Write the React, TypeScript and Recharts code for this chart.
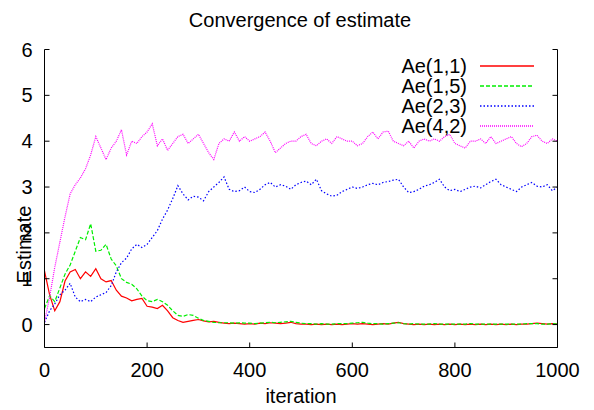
import React from 'react';
import { LineChart, Line, XAxis, YAxis, Customized } from 'recharts';

const FONT = '"Liberation Sans", Arial, Helvetica, sans-serif';

// iteration index of each sample (every 10 iterations)
const iterations = Array.from({ length: 101 }, (_, i) => i * 10);

const ae11 = [
  1.17, 0.65, 0.3, 0.5, 0.95, 1.15, 1.2, 1.0, 1.15, 1.05,
  1.22, 1.0, 0.93, 0.96, 0.75, 0.62, 0.58, 0.52, 0.55, 0.57,
  0.4, 0.38, 0.35, 0.42, 0.3, 0.15, 0.09, 0.05, 0.07, 0.09,
  0.11, 0.08, 0.06, 0.07, 0.05, 0.03, 0.02, 0.03,
  0.02, 0.01, 0.02, 0.01, 0.03, 0.02, 0.04, 0.03, 0.02, 0.03, 0.05, 0.02,
  0.01, 0.01, 0.0, 0.01, 0.0, 0.01, 0.0, 0.01, 0.0, 0.01,
  0.02, 0.01, 0.02, 0.01, 0.0, 0.01, 0.02, 0.01, 0.03, 0.05,
  0.02, 0.01, 0.0, 0.01, 0.0, 0.01, 0.0, 0.01, 0.0, 0.01,
  0.0, 0.01, 0.0, 0.01, 0.0, 0.01, 0.0, 0.01, 0.0, 0.01,
  0.0, 0.01, 0.0, 0.01, 0.01, 0.02, 0.03, 0.02, 0.01, 0.02,
  0.01,
];

const ae15 = [
  0.35, 0.63, 0.5, 0.8, 1.1, 1.3, 1.6, 1.9, 1.85, 2.2,
  1.6, 1.62, 1.75, 1.43, 1.28, 1.0, 0.92, 0.88, 0.78, 0.62,
  0.52, 0.5, 0.55, 0.5, 0.42, 0.3, 0.2, 0.18, 0.22, 0.2,
  0.14, 0.09, 0.07, 0.05, 0.04, 0.04,
  0.04, 0.03, 0.04, 0.03,
  0.03, 0.02, 0.03, 0.04, 0.05, 0.04, 0.05, 0.06, 0.07, 0.05,
  0.03, 0.02, 0.02, 0.01, 0.02, 0.01, 0.01, 0.02, 0.02, 0.02,
  0.03, 0.04, 0.05, 0.03, 0.02, 0.02, 0.01, 0.02, 0.03, 0.04,
  0.02, 0.01, 0.02, 0.01, 0.01, 0.01, 0.02, 0.01, 0.01, 0.01,
  0.01, 0.01, 0.01, 0.02, 0.01, 0.01, 0.01, 0.01, 0.01, 0.01,
  0.01, 0.01, 0.01, 0.01, 0.02, 0.02, 0.02, 0.01, 0.01, 0.02,
  0.01,
];

const ae23 = [
  0.05, 0.3, 0.45, 0.65, 0.75, 0.9, 0.6, 0.5, 0.55, 0.5,
  0.6, 0.65, 0.7, 0.85, 1.15, 1.35, 1.45, 1.65, 1.75, 1.68,
  1.75, 1.9, 2.05, 2.3, 2.5, 2.75, 3.03, 2.85, 2.72, 2.8,
  2.78, 2.7, 2.9, 3.0, 3.1, 3.22, 2.95, 2.9, 2.92, 3.0,
  2.9, 2.88, 2.95, 3.05, 3.1, 3.0, 3.05, 3.02, 2.95, 3.05,
  3.1, 3.13, 3.05, 3.17, 2.92, 2.85, 2.8, 2.82, 2.9, 2.95,
  3.0, 2.97, 3.0, 3.05, 3.08, 3.05, 3.1, 3.12, 3.15, 3.17,
  3.0, 2.88, 2.9, 2.95, 3.02, 3.05, 3.1, 3.17, 3.0, 2.92,
  2.95, 2.9, 2.95, 3.0, 3.02, 2.98, 3.05, 3.12, 3.17, 3.05,
  3.0, 2.95, 2.9, 3.0, 3.05, 3.1, 3.02, 3.0, 3.05, 2.92,
  3.0,
];

const ae42 = [
  0.05, 0.6, 1.25, 1.8, 2.35, 2.85, 3.05, 3.2, 3.4, 3.7,
  4.1, 3.85, 3.6, 3.85, 4.0, 4.25, 3.7, 4.0, 3.95, 4.1,
  4.2, 4.38, 3.9, 4.05, 3.8, 3.95, 4.1, 4.15, 3.95, 4.05,
  4.15, 3.95, 3.75, 3.6, 3.95, 4.05, 4.0, 4.2, 4.0, 4.1,
  4.0, 4.05, 4.1, 4.2, 4.0, 3.75, 3.85, 3.95, 4.0, 4.0,
  4.1, 4.15, 3.95, 3.9, 4.0, 4.05, 3.95, 4.1, 4.05, 4.0,
  4.0, 3.9, 3.95, 4.1, 4.2, 4.05, 4.2, 4.22, 4.0, 3.95,
  3.9, 4.0, 3.85, 4.0, 4.05, 4.0, 4.05, 4.0, 4.1, 4.15,
  3.95, 3.9, 3.85, 4.0, 4.0, 4.05, 3.95, 4.1, 3.95, 4.0,
  4.05, 4.1, 3.95, 3.88, 3.95, 4.1, 4.13, 4.0, 3.95, 4.05,
  4.0,
];

const xTicks = [0, 200, 400, 600, 800, 1000];
const yTicks = [0, 1, 2, 3, 4, 5, 6];

const series = [
  { key: 'ae11', name: 'Ae(1,1)', color: '#ff0000', dash: '' },
  { key: 'ae15', name: 'Ae(1,5)', color: '#00ee00', dash: '4 2' },
  { key: 'ae23', name: 'Ae(2,3)', color: '#0000ff', dash: '1.5 2' },
  { key: 'ae42', name: 'Ae(4,2)', color: '#ff00ff', dash: '1 1' },
];

const data = iterations.map((it, i) => ({
  it,
  ae11: ae11[i],
  ae15: ae15[i],
  ae23: ae23[i],
  ae42: ae42[i],
}));

// key box placed inside the top-right of the plot, like gnuplot's "set key top right"
const LEGEND_TEXT_RIGHT = 467;
const LEGEND_SAMPLE_X1 = 480;
const LEGEND_SAMPLE_X2 = 534;
const LEGEND_ROW0 = 66;
const LEGEND_ROW_STEP = 20;

const KeyBox = () => (
  <g className="gnuplot-key">
    {series.map((s, i) => {
      const y = LEGEND_ROW0 + i * LEGEND_ROW_STEP;
      return (
        <g key={s.key}>
          <text
            x={LEGEND_TEXT_RIGHT}
            y={y + 7}
            textAnchor="end"
            fontSize={20}
            fontFamily={FONT}
            fill="#000"
          >
            {s.name}
          </text>
          <path
            d={`M${LEGEND_SAMPLE_X1} ${y} L${LEGEND_SAMPLE_X2} ${y}`}
            fill="none"
            stroke={s.color}
            strokeWidth={1.4}
            strokeDasharray={s.dash || undefined}
          />
        </g>
      );
    })}
  </g>
);

const renderYLabel = (props: any) => {
  const vb = props.viewBox || { x: 0, y: 50, width: 44, height: 298 };
  const cx = vb.x + 30;
  const cy = vb.y + vb.height / 2 + 46;
  return (
    <text
      x={cx}
      y={cy}
      transform={`rotate(-90 ${cx} ${cy})`}
      textAnchor="middle"
      fontSize={20}
      fontFamily={FONT}
      fill="#000"
    >
      Estimate
    </text>
  );
};

const tickStyle = { fill: '#000', fontSize: 20, fontFamily: FONT };
const blank = () => '';

export default function App() {
  return (
    <div style={{ position: 'absolute', left: 0, top: 0, width: 594, height: 410, background: '#fff' }}>
      <div
        style={{
          position: 'absolute',
          left: 3,
          top: 10,
          width: 594,
          textAlign: 'center',
          fontFamily: FONT,
          fontSize: 20,
          lineHeight: '20px',
          color: '#000',
        }}
      >
        Convergence of estimate
      </div>
      <LineChart
        width={594}
        height={410}
        data={data}
        margin={{ top: 49.5, left: 0.5, right: 0.5, bottom: 2.5 }}
      >
        <XAxis
          dataKey="it"
          type="number"
          domain={[0, 1000]}
          ticks={xTicks}
          allowDataOverflow
          height={60}
          tickSize={-5}
          tickMargin={20}
          tick={tickStyle}
          axisLine={{ stroke: '#000' }}
          tickLine={{ stroke: '#000' }}
          label={{ value: 'iteration', position: 'insideBottom', offset: 5, fill: '#000', fontSize: 20, fontFamily: FONT }}
        />
        <XAxis
          xAxisId="top"
          orientation="top"
          dataKey="it"
          type="number"
          domain={[0, 1000]}
          ticks={xTicks}
          allowDataOverflow
          height={0}
          tickSize={-5}
          tickFormatter={blank}
          axisLine={{ stroke: '#000' }}
          tickLine={{ stroke: '#000' }}
        />
        <YAxis
          type="number"
          domain={[-0.5, 6]}
          ticks={yTicks}
          allowDataOverflow
          width={44}
          tickSize={-5}
          tickMargin={17}
          tick={tickStyle}
          axisLine={{ stroke: '#000' }}
          tickLine={{ stroke: '#000' }}
          label={renderYLabel}
        />
        <YAxis
          yAxisId="right"
          orientation="right"
          type="number"
          domain={[-0.5, 6]}
          ticks={yTicks}
          allowDataOverflow
          width={36}
          tickSize={-5}
          tickFormatter={blank}
          axisLine={{ stroke: '#000' }}
          tickLine={{ stroke: '#000' }}
        />
        {series.map((s) => (
          <Line
            key={s.key}
            dataKey={s.key}
            name={s.name}
            type="linear"
            stroke={s.color}
            strokeWidth={1.2}
            strokeDasharray={s.dash || undefined}
            dot={false}
            activeDot={false}
            isAnimationActive={false}
          />
        ))}
        <Customized component={<KeyBox />} />
      </LineChart>
    </div>
  );
}
